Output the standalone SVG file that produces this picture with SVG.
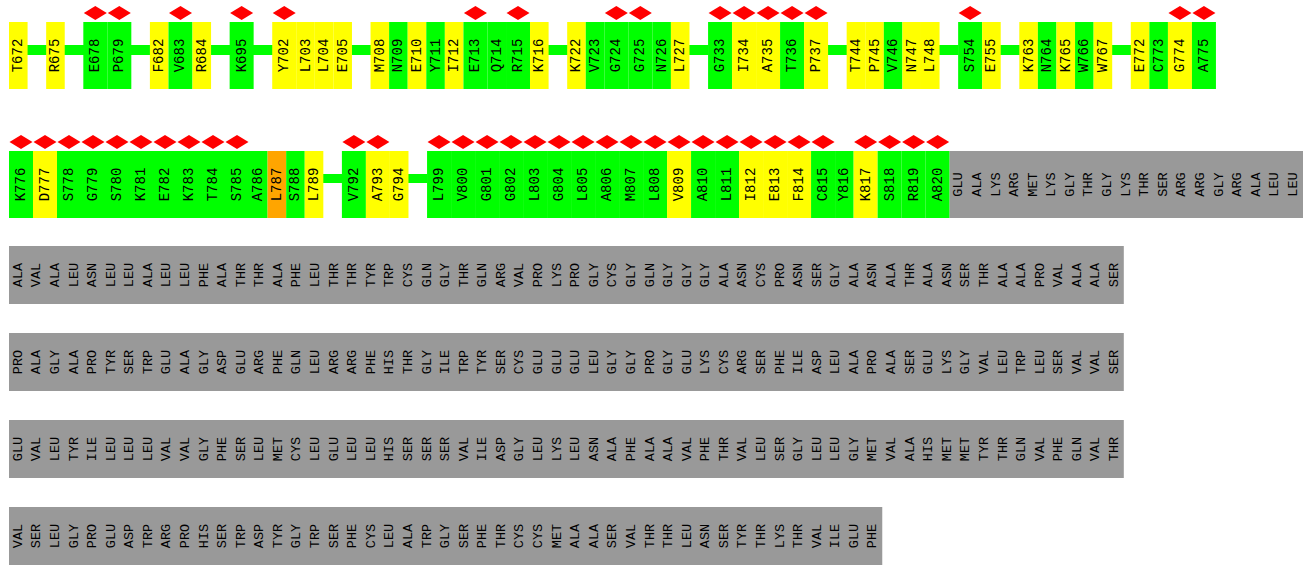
<svg xmlns="http://www.w3.org/2000/svg" xmlns:xlink="http://www.w3.org/1999/xlink" width="1303" height="567" viewBox="0 0 1303 567">
<style>
.g{fill:#00ff00}.y{fill:#ffff00}.o{fill:#ffa500}.gr{fill:#999999}
text{font-family:"Liberation Mono","DejaVu Sans Mono",monospace;font-size:13.5px;text-anchor:middle;dominant-baseline:central;fill:#000}
.lbl text{font-size:14px}
.bar{fill:#00ff00}
</style>
<defs>
<path id="dm" d="M-11.5 0L0 -7L11.5 0L0 7Z" fill="#ff0000"/>
</defs>
<rect width="1303" height="567" fill="#ffffff"/>
<g id="connectors">
<rect class="bar" x="27" y="45" width="20" height="10"/>
<rect class="bar" x="64" y="45" width="20" height="10"/>
<rect class="bar" x="131" y="45" width="19.5" height="10"/>
<rect class="bar" x="210.5" y="45" width="20" height="10"/>
<rect class="bar" x="253" y="45" width="20" height="10"/>
<rect class="bar" x="351.5" y="45" width="19.5" height="10"/>
<rect class="bar" x="548" y="45" width="20" height="10"/>
<rect class="bar" x="689" y="45" width="19.5" height="10"/>
<rect class="bar" x="827.5" y="45" width="19.5" height="10"/>
<rect class="bar" x="939" y="45" width="19.5" height="10"/>
<rect class="bar" x="1000" y="45" width="20" height="10"/>
<rect class="bar" x="1111.5" y="45" width="20" height="10"/>
<rect class="bar" x="322.8" y="174" width="19.5" height="9"/>
<rect class="bar" x="408" y="174" width="19.5" height="9"/>
</g>
<g class="lbl">
<!-- Row 1 -->
<g id="T672"><rect class="y" x="9" y="22" width="18.58" height="67"/><text transform="translate(18.29,55.5) rotate(-90)">T672</text></g>
<g id="R675"><rect class="y" x="46.16" y="22" width="18.58" height="67"/><text transform="translate(55.45,55.5) rotate(-90)">R675</text></g>
<g id="E678"><rect class="g" x="83.32" y="22" width="24" height="67"/><use xlink:href="#dm" x="95.32" y="13"/><text transform="translate(95.32,55.5) rotate(-90)">E678</text></g>
<g id="P679"><rect class="g" x="107.32" y="22" width="24" height="67"/><use xlink:href="#dm" x="119.32" y="13"/><text transform="translate(119.32,55.5) rotate(-90)">P679</text></g>
<g id="F682"><rect class="y" x="149.9" y="22" width="18.58" height="67"/><text transform="translate(159.19,55.5) rotate(-90)">F682</text></g>
<g id="V683"><rect class="g" x="168.48" y="22" width="24" height="67"/><use xlink:href="#dm" x="180.48" y="13"/><text transform="translate(180.48,55.5) rotate(-90)">V683</text></g>
<g id="R684"><rect class="y" x="192.48" y="22" width="18.58" height="67"/><text transform="translate(201.77,55.5) rotate(-90)">R684</text></g>
<g id="K695"><rect class="g" x="229.64" y="22" width="24" height="67"/><use xlink:href="#dm" x="241.64" y="13"/><text transform="translate(241.64,55.5) rotate(-90)">K695</text></g>
<g id="Y702"><rect class="y" x="272.22" y="22" width="24" height="67"/><use xlink:href="#dm" x="284.22" y="13"/><text transform="translate(284.22,55.5) rotate(-90)">Y702</text></g>
<g id="L703"><rect class="y" x="296.22" y="22" width="18.58" height="67"/><text transform="translate(305.51,55.5) rotate(-90)">L703</text></g>
<g id="L704"><rect class="y" x="314.8" y="22" width="18.58" height="67"/><text transform="translate(324.09,55.5) rotate(-90)">L704</text></g>
<g id="E705"><rect class="y" x="333.38" y="22" width="18.58" height="67"/><text transform="translate(342.67,55.5) rotate(-90)">E705</text></g>
<g id="M708"><rect class="y" x="370.54" y="22" width="18.58" height="67"/><text transform="translate(379.83,55.5) rotate(-90)">M708</text></g>
<g id="N709"><rect class="g" x="389.12" y="22" width="18.58" height="67"/><text transform="translate(398.41,55.5) rotate(-90)">N709</text></g>
<g id="E710"><rect class="y" x="407.7" y="22" width="18.58" height="67"/><text transform="translate(416.99,55.5) rotate(-90)">E710</text></g>
<g id="Y711"><rect class="g" x="426.28" y="22" width="18.58" height="67"/><text transform="translate(435.57,55.5) rotate(-90)">Y711</text></g>
<g id="I712"><rect class="y" x="444.86" y="22" width="18.58" height="67"/><text transform="translate(454.15,55.5) rotate(-90)">I712</text></g>
<g id="E713"><rect class="g" x="463.44" y="22" width="24" height="67"/><use xlink:href="#dm" x="475.44" y="13"/><text transform="translate(475.44,55.5) rotate(-90)">E713</text></g>
<g id="Q714"><rect class="g" x="487.44" y="22" width="18.58" height="67"/><text transform="translate(496.73,55.5) rotate(-90)">Q714</text></g>
<g id="R715"><rect class="g" x="506.02" y="22" width="24" height="67"/><use xlink:href="#dm" x="518.02" y="13"/><text transform="translate(518.02,55.5) rotate(-90)">R715</text></g>
<g id="K716"><rect class="y" x="530.02" y="22" width="18.58" height="67"/><text transform="translate(539.31,55.5) rotate(-90)">K716</text></g>
<g id="K722"><rect class="y" x="567.18" y="22" width="18.58" height="67"/><text transform="translate(576.47,55.5) rotate(-90)">K722</text></g>
<g id="V723"><rect class="g" x="585.76" y="22" width="18.58" height="67"/><text transform="translate(595.05,55.5) rotate(-90)">V723</text></g>
<g id="G724"><rect class="g" x="604.34" y="22" width="24" height="67"/><use xlink:href="#dm" x="616.34" y="13"/><text transform="translate(616.34,55.5) rotate(-90)">G724</text></g>
<g id="G725"><rect class="g" x="628.34" y="22" width="24" height="67"/><use xlink:href="#dm" x="640.34" y="13"/><text transform="translate(640.34,55.5) rotate(-90)">G725</text></g>
<g id="N726"><rect class="g" x="652.34" y="22" width="18.58" height="67"/><text transform="translate(661.63,55.5) rotate(-90)">N726</text></g>
<g id="L727"><rect class="y" x="670.92" y="22" width="18.58" height="67"/><text transform="translate(680.21,55.5) rotate(-90)">L727</text></g>
<g id="G733"><rect class="g" x="708.08" y="22" width="24" height="67"/><use xlink:href="#dm" x="720.08" y="13"/><text transform="translate(720.08,55.5) rotate(-90)">G733</text></g>
<g id="I734"><rect class="y" x="732.08" y="22" width="24" height="67"/><use xlink:href="#dm" x="744.08" y="13"/><text transform="translate(744.08,55.5) rotate(-90)">I734</text></g>
<g id="A735"><rect class="y" x="756.08" y="22" width="24" height="67"/><use xlink:href="#dm" x="768.08" y="13"/><text transform="translate(768.08,55.5) rotate(-90)">A735</text></g>
<g id="T736"><rect class="g" x="780.08" y="22" width="24" height="67"/><use xlink:href="#dm" x="792.08" y="13"/><text transform="translate(792.08,55.5) rotate(-90)">T736</text></g>
<g id="P737"><rect class="y" x="804.08" y="22" width="24" height="67"/><use xlink:href="#dm" x="816.08" y="13"/><text transform="translate(816.08,55.5) rotate(-90)">P737</text></g>
<g id="T744"><rect class="y" x="846.66" y="22" width="18.58" height="67"/><text transform="translate(855.95,55.5) rotate(-90)">T744</text></g>
<g id="P745"><rect class="y" x="865.24" y="22" width="18.58" height="67"/><text transform="translate(874.53,55.5) rotate(-90)">P745</text></g>
<g id="V746"><rect class="g" x="883.82" y="22" width="18.58" height="67"/><text transform="translate(893.11,55.5) rotate(-90)">V746</text></g>
<g id="N747"><rect class="y" x="902.4" y="22" width="18.58" height="67"/><text transform="translate(911.69,55.5) rotate(-90)">N747</text></g>
<g id="L748"><rect class="y" x="920.98" y="22" width="18.58" height="67"/><text transform="translate(930.27,55.5) rotate(-90)">L748</text></g>
<g id="S754"><rect class="g" x="958.14" y="22" width="24" height="67"/><use xlink:href="#dm" x="970.14" y="13"/><text transform="translate(970.14,55.5) rotate(-90)">S754</text></g>
<g id="E755"><rect class="y" x="982.14" y="22" width="18.58" height="67"/><text transform="translate(991.43,55.5) rotate(-90)">E755</text></g>
<g id="K763"><rect class="y" x="1019.3" y="22" width="18.58" height="67"/><text transform="translate(1028.59,55.5) rotate(-90)">K763</text></g>
<g id="N764"><rect class="g" x="1037.88" y="22" width="18.58" height="67"/><text transform="translate(1047.17,55.5) rotate(-90)">N764</text></g>
<g id="K765"><rect class="y" x="1056.46" y="22" width="18.58" height="67"/><text transform="translate(1065.75,55.5) rotate(-90)">K765</text></g>
<g id="W766"><rect class="g" x="1075.04" y="22" width="18.58" height="67"/><text transform="translate(1084.33,55.5) rotate(-90)">W766</text></g>
<g id="W767"><rect class="y" x="1093.62" y="22" width="18.58" height="67"/><text transform="translate(1102.91,55.5) rotate(-90)">W767</text></g>
<g id="E772"><rect class="y" x="1130.78" y="22" width="18.58" height="67"/><text transform="translate(1140.07,55.5) rotate(-90)">E772</text></g>
<g id="C773"><rect class="g" x="1149.36" y="22" width="18.58" height="67"/><text transform="translate(1158.65,55.5) rotate(-90)">C773</text></g>
<g id="G774"><rect class="y" x="1167.94" y="22" width="24" height="67"/><use xlink:href="#dm" x="1179.94" y="13"/><text transform="translate(1179.94,55.5) rotate(-90)">G774</text></g>
<g id="A775"><rect class="g" x="1191.94" y="22" width="24" height="67"/><use xlink:href="#dm" x="1203.94" y="13"/><text transform="translate(1203.94,55.5) rotate(-90)">A775</text></g>
<!-- Row 2 -->
<g id="K776"><rect class="g" x="9" y="151" width="24" height="67"/><use xlink:href="#dm" x="21" y="142"/><text transform="translate(21,184.5) rotate(-90)">K776</text></g>
<g id="D777"><rect class="y" x="33" y="151" width="24" height="67"/><use xlink:href="#dm" x="45" y="142"/><text transform="translate(45,184.5) rotate(-90)">D777</text></g>
<g id="S778"><rect class="g" x="57" y="151" width="24" height="67"/><use xlink:href="#dm" x="69" y="142"/><text transform="translate(69,184.5) rotate(-90)">S778</text></g>
<g id="G779"><rect class="g" x="81" y="151" width="24" height="67"/><use xlink:href="#dm" x="93" y="142"/><text transform="translate(93,184.5) rotate(-90)">G779</text></g>
<g id="S780"><rect class="g" x="105" y="151" width="24" height="67"/><use xlink:href="#dm" x="117" y="142"/><text transform="translate(117,184.5) rotate(-90)">S780</text></g>
<g id="K781"><rect class="g" x="129" y="151" width="24" height="67"/><use xlink:href="#dm" x="141" y="142"/><text transform="translate(141,184.5) rotate(-90)">K781</text></g>
<g id="E782"><rect class="g" x="153" y="151" width="24" height="67"/><use xlink:href="#dm" x="165" y="142"/><text transform="translate(165,184.5) rotate(-90)">E782</text></g>
<g id="K783"><rect class="g" x="177" y="151" width="24" height="67"/><use xlink:href="#dm" x="189" y="142"/><text transform="translate(189,184.5) rotate(-90)">K783</text></g>
<g id="T784"><rect class="g" x="201" y="151" width="24" height="67"/><use xlink:href="#dm" x="213" y="142"/><text transform="translate(213,184.5) rotate(-90)">T784</text></g>
<g id="S785"><rect class="g" x="225" y="151" width="24" height="67"/><use xlink:href="#dm" x="237" y="142"/><text transform="translate(237,184.5) rotate(-90)">S785</text></g>
<g id="A786"><rect class="g" x="249" y="151" width="18.58" height="67"/><text transform="translate(258.29,184.5) rotate(-90)">A786</text></g>
<g id="L787"><rect class="o" x="267.58" y="151" width="18.58" height="67"/><text transform="translate(276.87,184.5) rotate(-90)">L787</text></g>
<g id="S788"><rect class="g" x="286.16" y="151" width="18.58" height="67"/><text transform="translate(295.45,184.5) rotate(-90)">S788</text></g>
<g id="L789"><rect class="y" x="304.74" y="151" width="18.58" height="67"/><text transform="translate(314.03,184.5) rotate(-90)">L789</text></g>
<g id="V792"><rect class="g" x="341.9" y="151" width="24" height="67"/><use xlink:href="#dm" x="353.9" y="142"/><text transform="translate(353.9,184.5) rotate(-90)">V792</text></g>
<g id="A793"><rect class="y" x="365.9" y="151" width="24" height="67"/><use xlink:href="#dm" x="377.9" y="142"/><text transform="translate(377.9,184.5) rotate(-90)">A793</text></g>
<g id="G794"><rect class="y" x="389.9" y="151" width="18.58" height="67"/><text transform="translate(399.19,184.5) rotate(-90)">G794</text></g>
<g id="L799"><rect class="g" x="427.06" y="151" width="24" height="67"/><use xlink:href="#dm" x="439.06" y="142"/><text transform="translate(439.06,184.5) rotate(-90)">L799</text></g>
<g id="V800"><rect class="g" x="451.06" y="151" width="24" height="67"/><use xlink:href="#dm" x="463.06" y="142"/><text transform="translate(463.06,184.5) rotate(-90)">V800</text></g>
<g id="G801"><rect class="g" x="475.06" y="151" width="24" height="67"/><use xlink:href="#dm" x="487.06" y="142"/><text transform="translate(487.06,184.5) rotate(-90)">G801</text></g>
<g id="G802"><rect class="g" x="499.06" y="151" width="24" height="67"/><use xlink:href="#dm" x="511.06" y="142"/><text transform="translate(511.06,184.5) rotate(-90)">G802</text></g>
<g id="L803"><rect class="g" x="523.06" y="151" width="24" height="67"/><use xlink:href="#dm" x="535.06" y="142"/><text transform="translate(535.06,184.5) rotate(-90)">L803</text></g>
<g id="G804"><rect class="g" x="547.06" y="151" width="24" height="67"/><use xlink:href="#dm" x="559.06" y="142"/><text transform="translate(559.06,184.5) rotate(-90)">G804</text></g>
<g id="L805"><rect class="g" x="571.06" y="151" width="24" height="67"/><use xlink:href="#dm" x="583.06" y="142"/><text transform="translate(583.06,184.5) rotate(-90)">L805</text></g>
<g id="A806"><rect class="g" x="595.06" y="151" width="24" height="67"/><use xlink:href="#dm" x="607.06" y="142"/><text transform="translate(607.06,184.5) rotate(-90)">A806</text></g>
<g id="M807"><rect class="g" x="619.06" y="151" width="24" height="67"/><use xlink:href="#dm" x="631.06" y="142"/><text transform="translate(631.06,184.5) rotate(-90)">M807</text></g>
<g id="L808"><rect class="g" x="643.06" y="151" width="24" height="67"/><use xlink:href="#dm" x="655.06" y="142"/><text transform="translate(655.06,184.5) rotate(-90)">L808</text></g>
<g id="V809"><rect class="y" x="667.06" y="151" width="24" height="67"/><use xlink:href="#dm" x="679.06" y="142"/><text transform="translate(679.06,184.5) rotate(-90)">V809</text></g>
<g id="A810"><rect class="g" x="691.06" y="151" width="24" height="67"/><use xlink:href="#dm" x="703.06" y="142"/><text transform="translate(703.06,184.5) rotate(-90)">A810</text></g>
<g id="L811"><rect class="g" x="715.06" y="151" width="24" height="67"/><use xlink:href="#dm" x="727.06" y="142"/><text transform="translate(727.06,184.5) rotate(-90)">L811</text></g>
<g id="I812"><rect class="y" x="739.06" y="151" width="24" height="67"/><use xlink:href="#dm" x="751.06" y="142"/><text transform="translate(751.06,184.5) rotate(-90)">I812</text></g>
<g id="E813"><rect class="y" x="763.06" y="151" width="24" height="67"/><use xlink:href="#dm" x="775.06" y="142"/><text transform="translate(775.06,184.5) rotate(-90)">E813</text></g>
<g id="F814"><rect class="y" x="787.06" y="151" width="24" height="67"/><use xlink:href="#dm" x="799.06" y="142"/><text transform="translate(799.06,184.5) rotate(-90)">F814</text></g>
<g id="C815"><rect class="g" x="811.06" y="151" width="24" height="67"/><use xlink:href="#dm" x="823.06" y="142"/><text transform="translate(823.06,184.5) rotate(-90)">C815</text></g>
<g id="Y816"><rect class="g" x="835.06" y="151" width="18.58" height="67"/><text transform="translate(844.35,184.5) rotate(-90)">Y816</text></g>
<g id="K817"><rect class="y" x="853.64" y="151" width="24" height="67"/><use xlink:href="#dm" x="865.64" y="142"/><text transform="translate(865.64,184.5) rotate(-90)">K817</text></g>
<g id="S818"><rect class="g" x="877.64" y="151" width="24" height="67"/><use xlink:href="#dm" x="889.64" y="142"/><text transform="translate(889.64,184.5) rotate(-90)">S818</text></g>
<g id="R819"><rect class="g" x="901.64" y="151" width="24" height="67"/><use xlink:href="#dm" x="913.64" y="142"/><text transform="translate(913.64,184.5) rotate(-90)">R819</text></g>
<g id="A820"><rect class="g" x="925.64" y="151" width="24" height="67"/><use xlink:href="#dm" x="937.64" y="142"/><text transform="translate(937.64,184.5) rotate(-90)">A820</text></g>
</g>
<g id="tail-row2"><rect class="gr" x="949.64" y="151" width="353.36" height="67"/>
<g transform="rotate(-90)">
<text x="-184.5" y="958.93">GLU</text><text x="-184.5" y="977.51">ALA</text><text x="-184.5" y="996.09">LYS</text><text x="-184.5" y="1014.67">ARG</text><text x="-184.5" y="1033.25">MET</text><text x="-184.5" y="1051.83">LYS</text><text x="-184.5" y="1070.41">GLY</text><text x="-184.5" y="1088.99">THR</text><text x="-184.5" y="1107.57">GLY</text><text x="-184.5" y="1126.15">LYS</text><text x="-184.5" y="1144.73">THR</text><text x="-184.5" y="1163.31">SER</text><text x="-184.5" y="1181.89">ARG</text><text x="-184.5" y="1200.47">ARG</text><text x="-184.5" y="1219.05">GLY</text><text x="-184.5" y="1237.63">ARG</text><text x="-184.5" y="1256.21">ALA</text><text x="-184.5" y="1274.79">LEU</text><text x="-184.5" y="1293.37">LEU</text>
</g></g>
<!-- Row 3 -->
<g id="tail-row3"><rect class="gr" x="9" y="246" width="1114.8" height="58"/>
<g transform="rotate(-90)">
<text x="-275" y="18.29">ALA</text><text x="-275" y="36.87">VAL</text><text x="-275" y="55.45">ALA</text><text x="-275" y="74.03">LEU</text><text x="-275" y="92.61">ASN</text><text x="-275" y="111.19">LEU</text><text x="-275" y="129.77">LEU</text><text x="-275" y="148.35">ALA</text><text x="-275" y="166.93">LEU</text><text x="-275" y="185.51">LEU</text><text x="-275" y="204.09">PHE</text><text x="-275" y="222.67">ALA</text><text x="-275" y="241.25">THR</text><text x="-275" y="259.83">THR</text><text x="-275" y="278.41">ALA</text><text x="-275" y="296.99">PHE</text><text x="-275" y="315.57">LEU</text><text x="-275" y="334.15">THR</text><text x="-275" y="352.73">THR</text><text x="-275" y="371.31">TYR</text><text x="-275" y="389.89">TRP</text><text x="-275" y="408.47">CYS</text><text x="-275" y="427.05">GLN</text><text x="-275" y="445.63">GLY</text><text x="-275" y="464.21">THR</text><text x="-275" y="482.79">GLN</text><text x="-275" y="501.37">ARG</text><text x="-275" y="519.95">VAL</text><text x="-275" y="538.53">PRO</text><text x="-275" y="557.11">LYS</text><text x="-275" y="575.69">PRO</text><text x="-275" y="594.27">GLY</text><text x="-275" y="612.85">CYS</text><text x="-275" y="631.43">GLY</text><text x="-275" y="650.01">GLN</text><text x="-275" y="668.59">GLY</text><text x="-275" y="687.17">GLY</text><text x="-275" y="705.75">GLY</text><text x="-275" y="724.33">ALA</text><text x="-275" y="742.91">ASN</text><text x="-275" y="761.49">CYS</text><text x="-275" y="780.07">PRO</text><text x="-275" y="798.65">ASN</text><text x="-275" y="817.23">SER</text><text x="-275" y="835.81">GLY</text><text x="-275" y="854.39">ALA</text><text x="-275" y="872.97">ASN</text><text x="-275" y="891.55">ALA</text><text x="-275" y="910.13">THR</text><text x="-275" y="928.71">ALA</text><text x="-275" y="947.29">ASN</text><text x="-275" y="965.87">SER</text><text x="-275" y="984.45">THR</text><text x="-275" y="1003.03">ALA</text><text x="-275" y="1021.61">ALA</text><text x="-275" y="1040.19">PRO</text><text x="-275" y="1058.77">VAL</text><text x="-275" y="1077.35">ALA</text><text x="-275" y="1095.93">ALA</text><text x="-275" y="1114.51">SER</text>
</g></g>
<!-- Row 4 -->
<g id="tail-row4"><rect class="gr" x="9" y="333" width="1114.8" height="58"/>
<g transform="rotate(-90)">
<text x="-362" y="18.29">PRO</text><text x="-362" y="36.87">ALA</text><text x="-362" y="55.45">GLY</text><text x="-362" y="74.03">ALA</text><text x="-362" y="92.61">PRO</text><text x="-362" y="111.19">TYR</text><text x="-362" y="129.77">SER</text><text x="-362" y="148.35">TRP</text><text x="-362" y="166.93">GLU</text><text x="-362" y="185.51">ALA</text><text x="-362" y="204.09">GLY</text><text x="-362" y="222.67">ASP</text><text x="-362" y="241.25">GLU</text><text x="-362" y="259.83">ARG</text><text x="-362" y="278.41">PHE</text><text x="-362" y="296.99">GLN</text><text x="-362" y="315.57">LEU</text><text x="-362" y="334.15">ARG</text><text x="-362" y="352.73">ARG</text><text x="-362" y="371.31">PHE</text><text x="-362" y="389.89">HIS</text><text x="-362" y="408.47">THR</text><text x="-362" y="427.05">GLY</text><text x="-362" y="445.63">ILE</text><text x="-362" y="464.21">TRP</text><text x="-362" y="482.79">TYR</text><text x="-362" y="501.37">SER</text><text x="-362" y="519.95">CYS</text><text x="-362" y="538.53">GLU</text><text x="-362" y="557.11">GLU</text><text x="-362" y="575.69">GLU</text><text x="-362" y="594.27">LEU</text><text x="-362" y="612.85">GLY</text><text x="-362" y="631.43">GLY</text><text x="-362" y="650.01">PRO</text><text x="-362" y="668.59">GLY</text><text x="-362" y="687.17">GLU</text><text x="-362" y="705.75">LYS</text><text x="-362" y="724.33">CYS</text><text x="-362" y="742.91">ARG</text><text x="-362" y="761.49">SER</text><text x="-362" y="780.07">PHE</text><text x="-362" y="798.65">ILE</text><text x="-362" y="817.23">ASP</text><text x="-362" y="835.81">LEU</text><text x="-362" y="854.39">ALA</text><text x="-362" y="872.97">PRO</text><text x="-362" y="891.55">ALA</text><text x="-362" y="910.13">SER</text><text x="-362" y="928.71">GLU</text><text x="-362" y="947.29">LYS</text><text x="-362" y="965.87">GLY</text><text x="-362" y="984.45">VAL</text><text x="-362" y="1003.03">LEU</text><text x="-362" y="1021.61">TRP</text><text x="-362" y="1040.19">LEU</text><text x="-362" y="1058.77">SER</text><text x="-362" y="1077.35">VAL</text><text x="-362" y="1095.93">VAL</text><text x="-362" y="1114.51">SER</text>
</g></g>
<!-- Row 5 -->
<g id="tail-row5"><rect class="gr" x="9" y="420" width="1114.8" height="58"/>
<g transform="rotate(-90)">
<text x="-449" y="18.29">GLU</text><text x="-449" y="36.87">VAL</text><text x="-449" y="55.45">LEU</text><text x="-449" y="74.03">TYR</text><text x="-449" y="92.61">ILE</text><text x="-449" y="111.19">LEU</text><text x="-449" y="129.77">LEU</text><text x="-449" y="148.35">LEU</text><text x="-449" y="166.93">VAL</text><text x="-449" y="185.51">VAL</text><text x="-449" y="204.09">GLY</text><text x="-449" y="222.67">PHE</text><text x="-449" y="241.25">SER</text><text x="-449" y="259.83">LEU</text><text x="-449" y="278.41">MET</text><text x="-449" y="296.99">CYS</text><text x="-449" y="315.57">LEU</text><text x="-449" y="334.15">GLU</text><text x="-449" y="352.73">LEU</text><text x="-449" y="371.31">LEU</text><text x="-449" y="389.89">HIS</text><text x="-449" y="408.47">SER</text><text x="-449" y="427.05">SER</text><text x="-449" y="445.63">SER</text><text x="-449" y="464.21">VAL</text><text x="-449" y="482.79">ILE</text><text x="-449" y="501.37">ASP</text><text x="-449" y="519.95">GLY</text><text x="-449" y="538.53">LEU</text><text x="-449" y="557.11">LYS</text><text x="-449" y="575.69">LEU</text><text x="-449" y="594.27">ASN</text><text x="-449" y="612.85">ALA</text><text x="-449" y="631.43">PHE</text><text x="-449" y="650.01">ALA</text><text x="-449" y="668.59">ALA</text><text x="-449" y="687.17">VAL</text><text x="-449" y="705.75">PHE</text><text x="-449" y="724.33">THR</text><text x="-449" y="742.91">VAL</text><text x="-449" y="761.49">LEU</text><text x="-449" y="780.07">SER</text><text x="-449" y="798.65">GLY</text><text x="-449" y="817.23">LEU</text><text x="-449" y="835.81">LEU</text><text x="-449" y="854.39">GLY</text><text x="-449" y="872.97">MET</text><text x="-449" y="891.55">VAL</text><text x="-449" y="910.13">ALA</text><text x="-449" y="928.71">HIS</text><text x="-449" y="947.29">MET</text><text x="-449" y="965.87">MET</text><text x="-449" y="984.45">TYR</text><text x="-449" y="1003.03">THR</text><text x="-449" y="1021.61">GLN</text><text x="-449" y="1040.19">VAL</text><text x="-449" y="1058.77">PHE</text><text x="-449" y="1077.35">GLN</text><text x="-449" y="1095.93">VAL</text><text x="-449" y="1114.51">THR</text>
</g></g>
<!-- Row 6 -->
<g id="tail-row6"><rect class="gr" x="9" y="507" width="873.26" height="58"/>
<g transform="rotate(-90)">
<text x="-536" y="18.29">VAL</text><text x="-536" y="36.87">SER</text><text x="-536" y="55.45">LEU</text><text x="-536" y="74.03">GLY</text><text x="-536" y="92.61">PRO</text><text x="-536" y="111.19">GLU</text><text x="-536" y="129.77">ASP</text><text x="-536" y="148.35">TRP</text><text x="-536" y="166.93">ARG</text><text x="-536" y="185.51">PRO</text><text x="-536" y="204.09">HIS</text><text x="-536" y="222.67">SER</text><text x="-536" y="241.25">TRP</text><text x="-536" y="259.83">ASP</text><text x="-536" y="278.41">TYR</text><text x="-536" y="296.99">GLY</text><text x="-536" y="315.57">TRP</text><text x="-536" y="334.15">SER</text><text x="-536" y="352.73">PHE</text><text x="-536" y="371.31">CYS</text><text x="-536" y="389.89">LEU</text><text x="-536" y="408.47">ALA</text><text x="-536" y="427.05">TRP</text><text x="-536" y="445.63">GLY</text><text x="-536" y="464.21">SER</text><text x="-536" y="482.79">PHE</text><text x="-536" y="501.37">THR</text><text x="-536" y="519.95">CYS</text><text x="-536" y="538.53">CYS</text><text x="-536" y="557.11">MET</text><text x="-536" y="575.69">ALA</text><text x="-536" y="594.27">ALA</text><text x="-536" y="612.85">SER</text><text x="-536" y="631.43">VAL</text><text x="-536" y="650.01">THR</text><text x="-536" y="668.59">THR</text><text x="-536" y="687.17">LEU</text><text x="-536" y="705.75">ASN</text><text x="-536" y="724.33">SER</text><text x="-536" y="742.91">TYR</text><text x="-536" y="761.49">THR</text><text x="-536" y="780.07">LYS</text><text x="-536" y="798.65">THR</text><text x="-536" y="817.23">VAL</text><text x="-536" y="835.81">ILE</text><text x="-536" y="854.39">GLU</text><text x="-536" y="872.97">PHE</text>
</g></g>
</svg>
